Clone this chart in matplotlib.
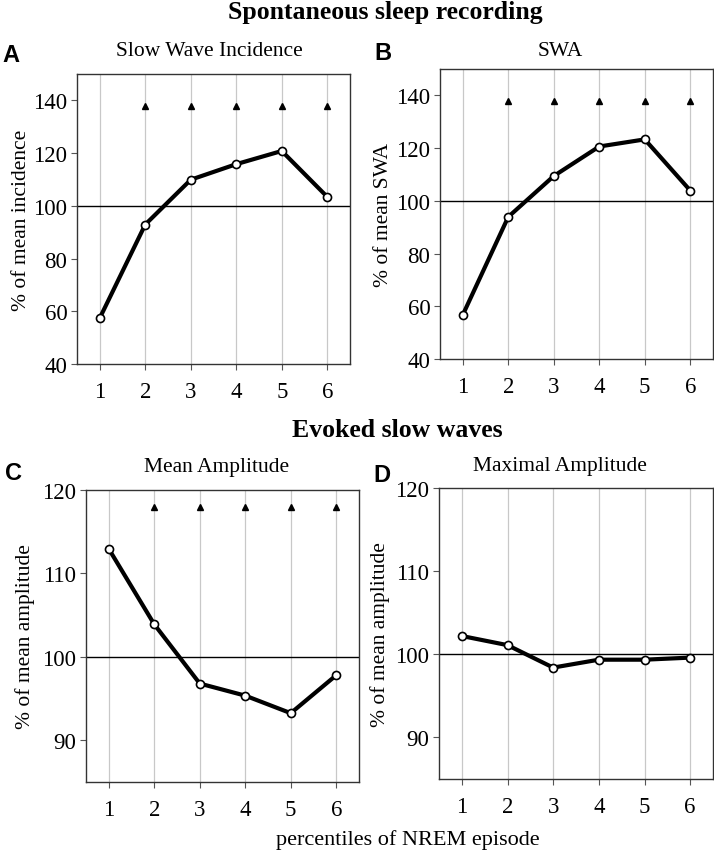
import matplotlib
matplotlib.use("Agg")
import matplotlib.pyplot as plt

percentiles = [1, 2, 3, 4, 5, 6]
incidence = [57.4, 92.9, 109.9, 115.8, 120.8, 103.4]
swa = [56.7, 93.9, 109.4, 120.6, 123.3, 103.9]
mean_amp = [112.95, 103.9, 96.8, 95.35, 93.25, 97.8]
max_amp = [102.2, 101.1, 98.4, 99.35, 99.35, 99.6]
sig_x = [2, 3, 4, 5, 6]
sig_top = 138
sig_bottom = 118

serif = ["Liberation Serif", "DejaVu Serif"]
sans = ["Liberation Sans", "DejaVu Sans"]
plt.rcParams['font.family'] = serif

W, H = 714, 853
fig = plt.figure(figsize=(W / 100, H / 100), dpi=100)

def box(l, r, t, b):
    return [l / W, 1 - b / H, (r - l) / W, (b - t) / H]

panels = [
    dict(pos=box(77, 350, 75, 365), y=incidence, ylim=(40, 150), yticks=[40, 60, 80, 100, 120, 140],
         title="Slow Wave Incidence", ylabel="% of mean incidence", sig=sig_top, letter="A",
         lx=2, ly=56, tx=209, ty=52, ylx=22),
    dict(pos=box(440, 713, 70, 360), y=swa, ylim=(40, 150), yticks=[40, 60, 80, 100, 120, 140],
         title="SWA", ylabel="% of mean SWA", sig=sig_top, letter="B",
         lx=374, ly=53, tx=560, ty=52, ylx=383),
    dict(pos=box(86, 359, 491, 783), y=mean_amp, ylim=(85, 120), yticks=[90, 100, 110, 120],
         title="Mean Amplitude", ylabel="% of mean amplitude", sig=sig_bottom, letter="C",
         lx=5, ly=474, tx=217, ty=468, ylx=25),
    dict(pos=box(439, 713, 489, 780), y=max_amp, ylim=(85, 120), yticks=[90, 100, 110, 120],
         title="Maximal Amplitude", ylabel="% of mean amplitude", sig=None, letter="D",
         lx=373, ly=475, tx=560, ty=467, ylx=380),
]

for p in panels:
    ax = fig.add_axes(p["pos"])
    ax.set_xlim(0.5, 6.5)
    ax.set_ylim(*p["ylim"])
    for xv in percentiles:
        ax.axvline(xv, color="#c8c8c8", lw=0.9, zorder=0)
    ax.axhline(100, color="black", lw=1.0, zorder=1)
    ax.plot(percentiles, p["y"], color="black", lw=3.0, marker="o", ms=5.8,
            mfc="white", mec="black", mew=1.2, zorder=3)
    if p["sig"] is not None:
        ax.plot(sig_x, [p["sig"]] * len(sig_x), linestyle="none", marker="^",
                color="black", ms=4.8, zorder=3)
    ax.set_xticks(percentiles)
    ax.set_yticks(p["yticks"])
    ax.tick_params(axis="both", labelsize=16.5, direction="out", length=4,
                   color="#555555", width=0.8)
    ax.tick_params(axis="x", pad=8)
    ax.tick_params(axis="y", pad=3)
    for s in ax.spines.values():
        s.set_color("#333333")
        s.set_linewidth(1.0)
    fig.text(p["tx"] / W, 1 - p["ty"] / H, p["title"], ha="center", va="center",
             fontsize=15.5, family=serif)
    fig.text(p["lx"] / W, 1 - p["ly"] / H, p["letter"], ha="left", va="center",
             fontsize=17, fontweight="bold", family=sans)
    cy = (p["pos"][1] + p["pos"][3] / 2)
    fig.text(p["ylx"] / W, cy, p["ylabel"], ha="center", va="center", rotation=90,
             fontsize=15.5, family=serif)

fig.text(385 / W, 1 - 12 / H, "Spontaneous sleep recording", ha="center", va="center",
         fontsize=18.5, fontweight="bold", family=serif)
fig.text(397 / W, 1 - 431 / H, "Evoked slow waves", ha="center", va="center",
         fontsize=18.5, fontweight="bold", family=serif)
fig.text(408 / W, 1 - 840 / H, "percentiles of NREM episode", ha="center", va="center",
         fontsize=16, family=serif)

fig.savefig("out.png", dpi=100, facecolor="white")
